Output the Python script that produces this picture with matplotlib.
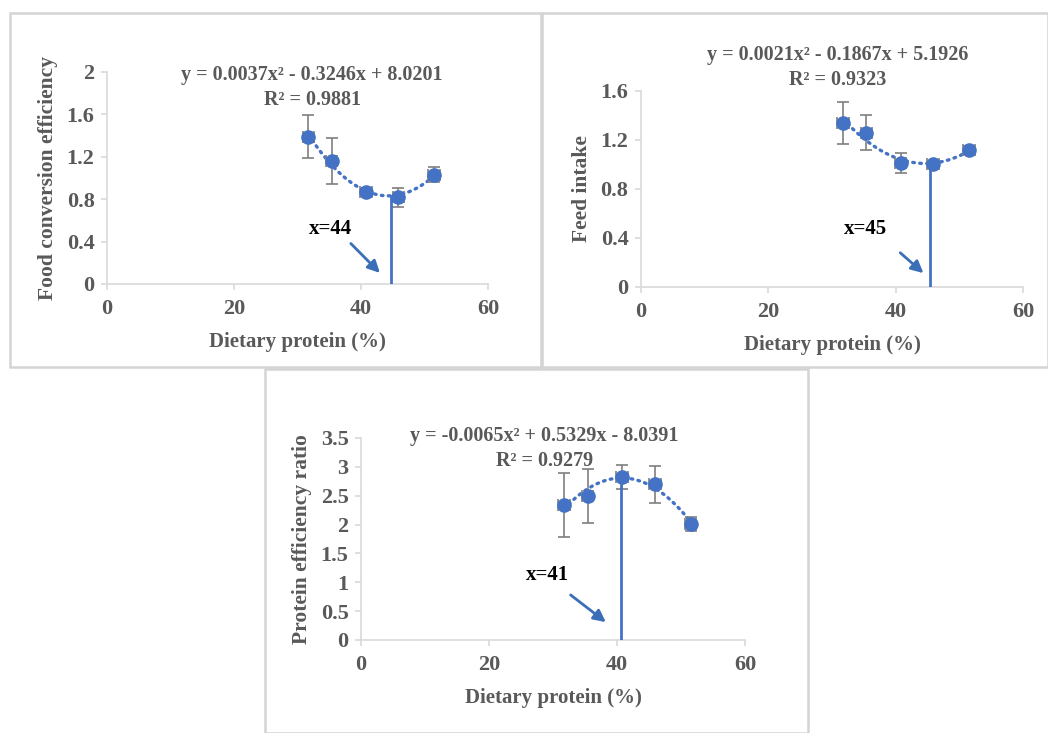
import numpy as np
import matplotlib
matplotlib.use('Agg')
import matplotlib.pyplot as plt
from matplotlib.patches import Rectangle

# 数据
protein = [31.7, 35.4, 40.8, 45.9, 51.5]

fce = [1.39, 1.16, 0.87, 0.82, 1.03]
fce_err = [0.20, 0.22, 0.03, 0.09, 0.07]

feed = [1.34, 1.26, 1.01, 1.00, 1.12]
feed_err = [0.17, 0.14, 0.08, 0.015, 0.03]

per = [2.34, 2.49, 2.83, 2.70, 2.01]
per_err = [0.55, 0.47, 0.21, 0.32, 0.12]

x_err = [0.9, 0.9, 0.9, 0.9, 0.9]

equations = ['y = 0.0037x² - 0.3246x + 8.0201\nR² = 0.9881',
             'y = 0.0021x² - 0.1867x + 5.1926\nR² = 0.9323',
             'y = -0.0065x² + 0.5329x - 8.0391\nR² = 0.9279']
optimum = [44.8, 45.4, 40.6]
opt_labels = ['x=44', 'x=45', 'x=41']
y_labels = ['Food conversion efficiency', 'Feed intake', 'Protein efficiency ratio']
y_ticks = [[0, 0.4, 0.8, 1.2, 1.6, 2],
           [0, 0.4, 0.8, 1.2, 1.6],
           [0, 0.5, 1, 1.5, 2, 2.5, 3, 3.5]]
y_ticklabels = [['0', '0.4', '0.8', '1.2', '1.6', '2'],
                ['0', '0.4', '0.8', '1.2', '1.6'],
                ['0', '0.5', '1', '1.5', '2', '2.5', '3', '3.5']]
x_ticks = [0, 20, 40, 60]

# 布局
W, H = 1048, 733
blue = '#4472C4'
grey = '#595959'
axes_rects = [[0.1021, 0.6126, 0.3635, 0.2892],
              [0.6116, 0.6085, 0.3645, 0.2674],
              [0.3445, 0.1269, 0.3664, 0.2756]]
# 公式、标签、箭头位置（数据坐标）
annot = [dict(eq=(32.3, 1.855), lab=(35.2, 0.52), a0=(38.1, 0.40), a1=(43.3, 0.085)),
         dict(eq=(30.9, 1.79), lab=(35.2, 0.47), a0=(40.4, 0.294), a1=(44.7, 0.098)),
         dict(eq=(28.6, 3.32), lab=(29.1, 1.12), a0=(32.4, 0.81), a1=(38.6, 0.28))]
panels = [(10, 13, 531, 354), (542, 13, 506, 354), (265, 369, 543, 364)]

plt.rcParams['font.family'] = ['Liberation Serif', 'DejaVu Serif']
plt.rcParams['font.weight'] = 'bold'

fig = plt.figure(figsize=(W / 100, H / 100), dpi=100)

# 面板边框
for (px, py, pw, ph) in panels:
    fig.patches.append(Rectangle((px / W, 1 - (py + ph) / H), pw / W, ph / H,
                                 transform=fig.transFigure, fill=False,
                                 edgecolor='#D4D4D4', linewidth=1.8))

series = [(fce, fce_err), (feed, feed_err), (per, per_err)]
for i, (y, yerr) in enumerate(series):
    ax = fig.add_axes(axes_rects[i])
    # 二次趋势线
    coef = np.polyfit(protein, y, 2)
    xs = np.linspace(protein[0], protein[-1], 200)
    ax.plot(xs, np.polyval(coef, xs), color=blue, linestyle=(0, (0.5, 1.6)),
            linewidth=2.4, dash_capstyle='round', zorder=2)

    ax.errorbar(protein, y, yerr=yerr, xerr=x_err, fmt='none', ecolor='#7F7F7F',
                elinewidth=1.2, capsize=4, capthick=1.2, zorder=3)
    ax.plot(protein, y, 'o', color=blue, markersize=9.5, zorder=4)

    # 最优点竖线
    ax.plot([optimum[i], optimum[i]], [0, np.polyval(coef, optimum[i])],
            color=blue, linewidth=2, zorder=5)

    a = annot[i]
    ax.annotate('', xy=a['a1'], xytext=a['a0'],
                arrowprops=dict(arrowstyle='-|>', color='#3A6FB8', lw=2,
                                mutation_scale=18), zorder=6)
    ax.text(a['lab'][0], a['lab'][1], opt_labels[i], ha='center', va='center',
            fontsize=15, fontweight='bold', color='black')
    ax.text(a['eq'][0], a['eq'][1], equations[i], ha='center', va='center',
            fontsize=14.5, fontweight='bold', color=grey, linespacing=1.3)

    ax.set_xlim(0, 60)
    ax.set_ylim(0, y_ticks[i][-1])
    ax.set_xticks(x_ticks)
    ax.set_xticklabels([str(t) for t in x_ticks])
    ax.set_yticks(y_ticks[i])
    ax.set_yticklabels(y_ticklabels[i])
    ax.tick_params(colors='#D9D9D9', labelcolor=grey, labelsize=16, length=4, width=1.2)
    ax.tick_params(axis='x', pad=7)
    ax.tick_params(axis='y', pad=5)
    for lab in ax.get_xticklabels() + ax.get_yticklabels():
        lab.set_fontweight('bold')
    for s in ['top', 'right']:
        ax.spines[s].set_visible(False)
    for s in ['left', 'bottom']:
        ax.spines[s].set_color('#D9D9D9')
        ax.spines[s].set_linewidth(1.2)
    ax.set_xlabel('Dietary protein (%)', fontsize=15, fontweight='bold', color=grey, labelpad=9)
    ax.set_ylabel(y_labels[i], fontsize=15.5, fontweight='bold', color=grey, labelpad=6)
    ax.patch.set_alpha(0)

fig.savefig('out.png', dpi=100)
